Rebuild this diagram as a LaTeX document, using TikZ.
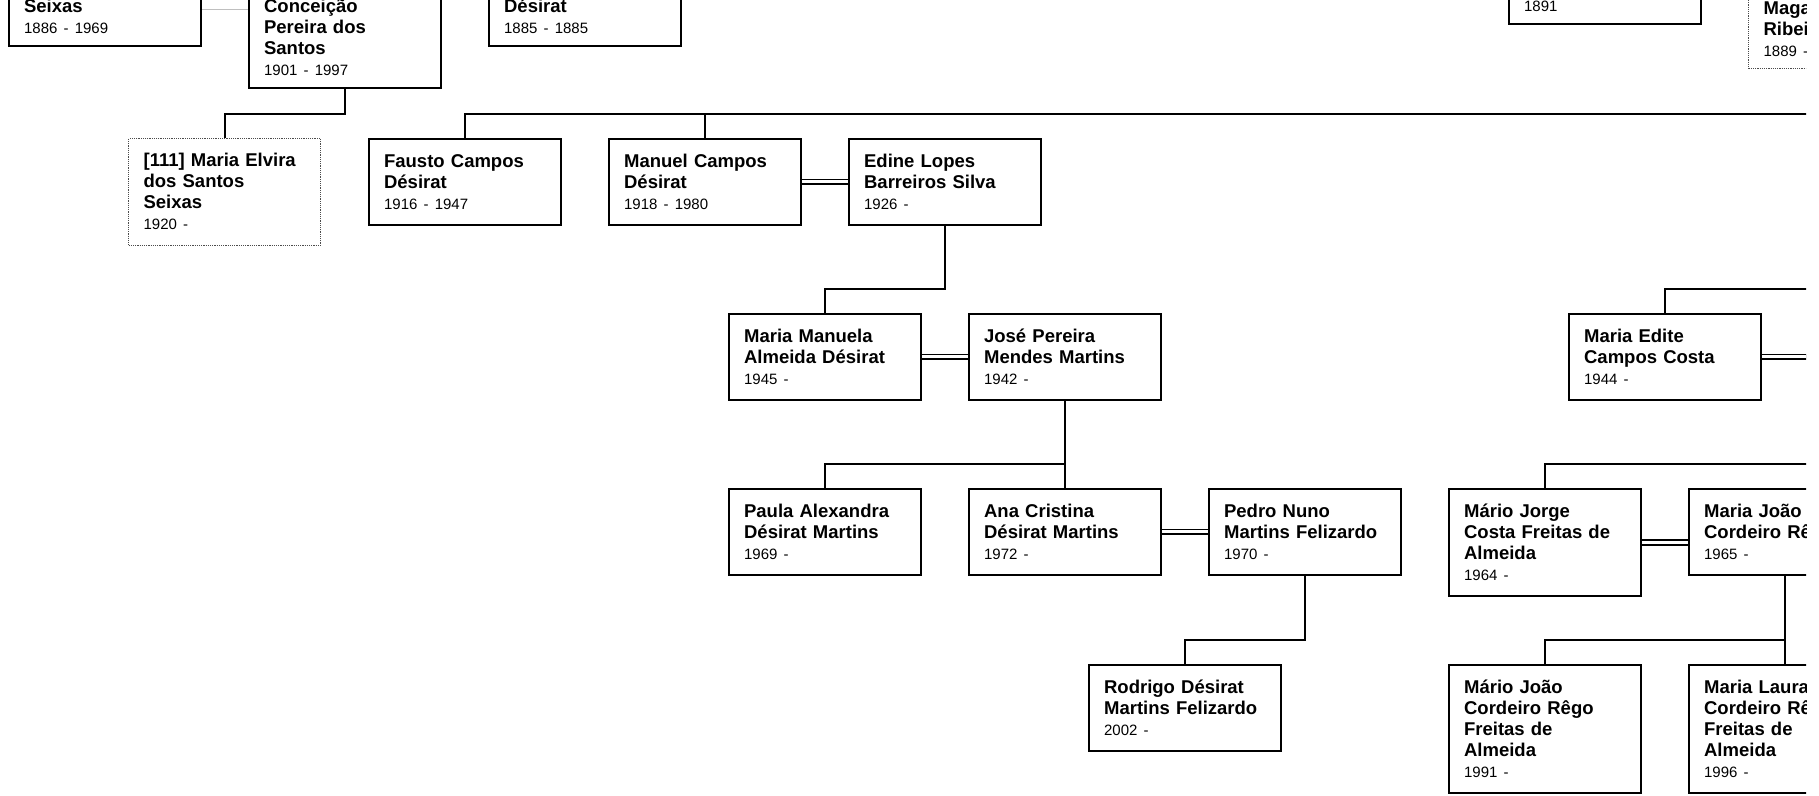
\documentclass[tikz,border=0pt]{standalone}
\usepackage{fontspec}
\setmainfont{Liberation Sans}
\newcommand{\ano}[1]{{\fontsize{15}{21}\selectfont\mdseries #1}}
\tikzset{
  fundo/.store in=\fundo, fundo=5.5pt,
  caixa/.style={draw,line width=2.2pt,anchor=north west,text width=162pt,
    inner xsep=15pt,inner ysep=10pt,align=left,
    font={\fontsize{18.5}{21}\selectfont\bfseries\lineskiplimit=-50pt\parindent=0pt},
    execute at begin node={\rule{0pt}{18pt}},
    execute at end node={\rule[-\fundo]{0pt}{0pt}}},
  corte/.style={caixa,anchor=south west,fundo=2pt},
  caixapont/.style={caixa,draw=black!70,line width=1.2pt,densely dotted},
  ramo/.style={line width=2.2pt},
  casal/.style={double,line width=1.8pt,double distance=3pt},
  fraco/.style={draw=black!25,line width=0.8pt},
}
\begin{document}
\begin{tikzpicture}[x=1pt,y=-1pt]
  \useasboundingbox (0,0) rectangle (1819,795);
  \clip (0,0) rectangle (1806,795);
  \node[corte] (seixas) at (8,47) {Seixas\\\ano{1886 - 1969}};
  \node[corte] (conceicao) at (248,89) {Conceição\\Pereira dos\\Santos\\\ano{1901 - 1997}};
  \node[corte] (desirat) at (488,47) {Désirat\\\ano{1885 - 1885}};
  \node[corte] (avo) at (1508,25) {\ano{1891}};
  \node[corte,caixapont,anchor=south west] (maga) at (1748,69) {Maga\\Ribei\\\ano{1889 -}};

  \node[caixapont] (elvira) at (128,138) {[111] Maria Elvira\\dos Santos\\Seixas\\\ano{1920 -}};
  \node[caixa] (fausto) at (368,138) {Fausto Campos\\Désirat\\\ano{1916 - 1947}};
  \node[caixa] (manuel) at (608,138) {Manuel Campos\\Désirat\\\ano{1918 - 1980}};
  \node[caixa] (edine) at (848,138) {Edine Lopes\\Barreiros Silva\\\ano{1926 -}};

  \node[caixa] (manuela) at (728,313) {Maria Manuela\\Almeida Désirat\\\ano{1945 -}};
  \node[caixa] (jose) at (968,313) {José Pereira\\Mendes Martins\\\ano{1942 -}};
  \node[caixa] (edite) at (1568,313) {Maria Edite\\Campos Costa\\\ano{1944 -}};

  \node[caixa] (paula) at (728,488) {Paula Alexandra\\Désirat Martins\\\ano{1969 -}};
  \node[caixa] (ana) at (968,488) {Ana Cristina\\Désirat Martins\\\ano{1972 -}};
  \node[caixa] (pedro) at (1208,488) {Pedro Nuno\\Martins Felizardo\\\ano{1970 -}};
  \node[caixa] (mjorge) at (1448,488) {Mário Jorge\\Costa Freitas de\\Almeida\\\ano{1964 -}};
  \node[caixa] (mjoao) at (1688,488) {Maria João\\Cordeiro Rêgo\\\ano{1965 -}};

  \node[caixa] (rodrigo) at (1088,664) {Rodrigo Désirat\\Martins Felizardo\\\ano{2002 -}};
  \node[caixa] (mariojoao) at (1448,664) {Mário João\\Cordeiro Rêgo\\Freitas de\\Almeida\\\ano{1991 -}};
  \node[caixa] (laura) at (1688,664) {Maria Laura\\Cordeiro Rêgo\\Freitas de\\Almeida\\\ano{1996 -}};

  \coordinate (dir1) at (1830,114);
  \coordinate (dir2) at (1830,289);
  \coordinate (dir3) at (1830,464);

  \draw[fraco] (seixas.east |- 0,9) -- (conceicao.west |- 0,9);
  \draw[ramo] (conceicao.south) |- ([yshift=24pt]elvira.north) -- (elvira.north);
  \draw[ramo] (fausto.north) |- (dir1);
  \draw[ramo] (manuel.north) -- (manuel.north |- dir1);
  \draw[casal] (manuel) -- (edine);
  \draw[ramo] (edine.south) |- ([yshift=24pt]manuela.north) -- (manuela.north);
  \draw[casal] (manuela) -- (jose);
  \draw[ramo] (jose.south) |- ([yshift=24pt]paula.north) -- (paula.north);
  \draw[ramo] (jose.south) -- (ana.north);
  \draw[casal] (ana) -- (pedro);
  \draw[ramo] (pedro.south) |- ([yshift=24pt]rodrigo.north) -- (rodrigo.north);
  \draw[ramo] (edite.north) |- (dir2);
  \draw[casal] (edite.east) -- (edite.east -| dir2);
  \draw[ramo] (mjorge.north) |- (dir3);
  \draw[casal] (mjorge.east) -- (mjorge.east -| mjoao.west);
  \draw[ramo] (mjoao.south) |- ([yshift=24pt]mariojoao.north) -- (mariojoao.north);
  \draw[ramo] (mjoao.south) -- (laura.north);
\end{tikzpicture}
\end{document}
